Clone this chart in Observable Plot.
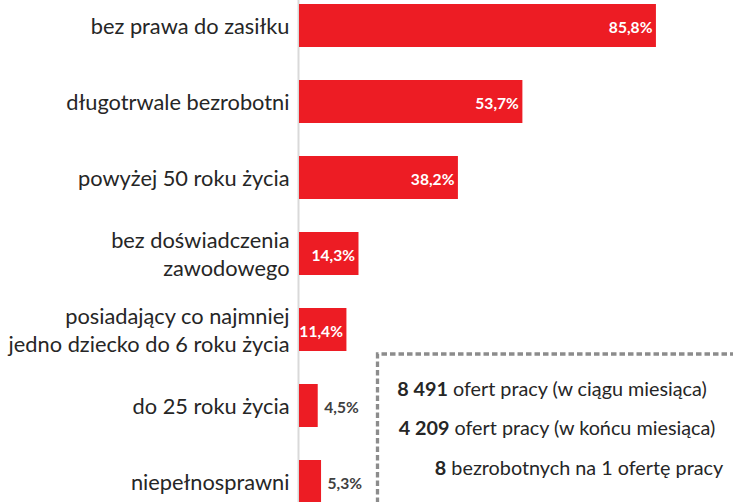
<!DOCTYPE html>
<html>
<head>
<meta charset="utf-8">
<script src="https://cdn.jsdelivr.net/npm/d3@7"></script>
<script src="https://cdn.jsdelivr.net/npm/@observablehq/plot@0.6"></script>
<style>
  html, body { margin: 0; padding: 0; overflow: hidden; background: #fff; }
  #wrap { position: relative; width: 733px; height: 502px; overflow: hidden; }
  #overlay { position: absolute; left: 0; top: 0; }
</style>
</head>
<body>
<div id="wrap"></div>
<script>
// Data
const categories = [
  "bez prawa do zasiłku",
  "długotrwale bezrobotni",
  "powyżej 50 roku życia",
  "bez doświadczenia\nzawodowego",
  "posiadający co najmniej\njedno dziecko do 6 roku życia",
  "do 25 roku życia",
  "niepełnosprawni"
];
const values = [85.8, 53.7, 38.2, 14.3, 11.4, 4.5, 5.3];
const valueLabels = ["85,8%", "53,7%", "38,2%", "14,3%", "11,4%", "4,5%", "5,3%"];
const boxBold = ["8 491", "4 209", "8"];
const boxRest = [" ofert pracy (w ciągu miesiąca)", " ofert pracy (w końcu miesiąca)", " bezrobotnych na 1 ofertę pracy"];

const data = categories.map((c, i) => ({cat: c, value: values[i], label: valueLabels[i]}));
const inside = data.filter(d => d.value >= 10);
const outside = data.filter(d => d.value < 10);

const RED = "#ED1C24";
const FONT = "Lato, 'Open Sans', sans-serif";

const chart = Plot.plot({
  width: 733,
  height: 506,
  marginTop: 4,
  marginBottom: 0,
  marginLeft: 299,
  marginRight: 18,
  style: {fontFamily: FONT, background: "#fff"},
  x: {domain: [0, 100], axis: null},
  y: {domain: categories, paddingInner: 0.44, paddingOuter: 0, align: 0, axis: null},
  marks: [
    Plot.ruleX([0], {stroke: "#d9d9d9", strokeWidth: 2, dx: -1, insetTop: -4}),
    Plot.barX(data, {x: "value", y: "cat", fill: RED}),
    Plot.text(data, {
      x: 0, y: "cat", text: "cat", textAnchor: "end", dx: -10, dy: -1,
      fontSize: 21.8, fill: "#262626", lineHeight: 1.3
    }),
    Plot.text(inside, {
      x: "value", y: "cat", text: "label", textAnchor: "end", dx: -4, dy: 2,
      fontSize: 15.6, fontWeight: "bold", fill: "#fff"
    }),
    Plot.text(outside, {
      x: "value", y: "cat", text: "label", textAnchor: "start", dx: 6, dy: 2,
      fontSize: 15.6, fontWeight: "bold", fill: "#404040"
    })
  ]
});

const wrap = document.getElementById("wrap");
wrap.appendChild(chart);

// Annotation box (dashed frame + summary text)
const ns = "http://www.w3.org/2000/svg";
const ov = document.createElementNS(ns, "svg");
ov.setAttribute("id", "overlay");
ov.setAttribute("width", 733);
ov.setAttribute("height", 502);
const path = document.createElementNS(ns, "path");
path.setAttribute("d", "M377.5,520V354H745");
path.setAttribute("fill", "none");
path.setAttribute("stroke", "#8c8c8c");
path.setAttribute("stroke-width", 3.3);
path.setAttribute("stroke-dasharray", "5.5 3");
ov.appendChild(path);
const centers = [552, 557, 579];
const baselines = [396, 435, 475];
boxBold.forEach((b, i) => {
  const t = document.createElementNS(ns, "text");
  t.setAttribute("x", centers[i]);
  t.setAttribute("y", baselines[i]);
  t.setAttribute("text-anchor", "middle");
  t.setAttribute("font-family", FONT);
  t.setAttribute("font-size", 19.8);
  t.setAttribute("fill", "#262626");
  const s1 = document.createElementNS(ns, "tspan");
  s1.setAttribute("font-weight", "bold");
  s1.textContent = b;
  const s2 = document.createElementNS(ns, "tspan");
  s2.textContent = boxRest[i];
  t.appendChild(s1); t.appendChild(s2);
  ov.appendChild(t);
});
wrap.appendChild(ov);
</script>
</body>
</html>
